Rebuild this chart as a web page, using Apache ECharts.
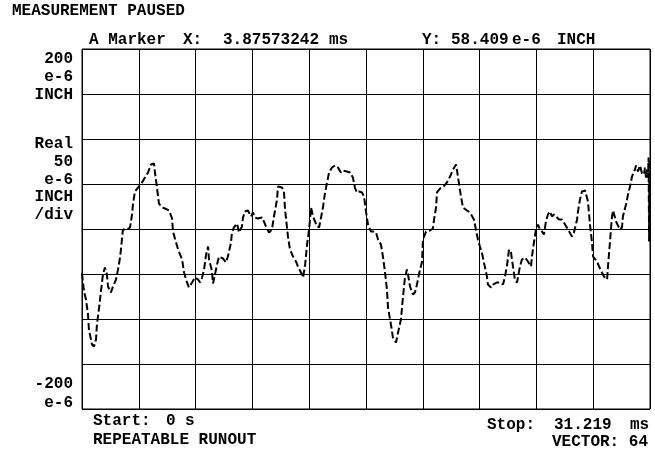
<!DOCTYPE html>
<html>
<head>
<meta charset="utf-8">
<script src="https://cdn.jsdelivr.net/npm/echarts@6/dist/echarts.min.js"></script>
<style>
html,body{margin:0;padding:0;background:#fff;}
#chart{width:655px;height:451px;}
</style>
</head>
<body>
<div id="chart"></div>
<script>
// time in ms
var times = [
0,0.11,0.22,0.33,0.38,0.55,0.66,0.77,0.82,0.93,1.04,1.15,1.26,1.37,1.43,1.59,1.70,1.87,1.98,2.09,
2.14,2.25,2.47,2.64,2.75,2.80,2.91,3.08,3.30,3.46,3.63,3.79,3.96,4.01,4.12,4.23,4.40,4.56,4.78,4.95,
5.00,5.17,5.28,5.50,5.61,5.77,5.88,6.05,6.21,6.38,6.49,6.60,6.71,6.82,6.93,6.98,7.14,7.20,7.31,7.42,
7.53,7.75,7.91,8.02,8.19,8.24,8.35,8.52,8.63,8.79,8.85,8.96,9.12,9.29,9.40,9.51,9.67,9.89,10.00,10.11,
10.28,10.44,10.55,10.72,10.77,10.99,11.10,11.16,11.32,11.43,11.60,11.76,11.87,12.09,12.15,12.26,12.37,12.48,12.59,12.70,
12.92,13.03,13.14,13.25,13.36,13.47,13.58,13.74,13.90,14.07,14.23,14.34,14.56,14.73,14.89,15.00,15.11,15.22,15.39,15.50,
15.61,15.72,15.88,15.99,16.16,16.27,16.43,16.54,16.65,16.76,16.82,16.98,17.09,17.26,17.37,17.53,17.64,17.75,17.86,17.92,
18.03,18.19,18.30,18.41,18.52,18.69,18.74,18.91,19.13,19.29,19.35,19.46,19.51,19.68,19.84,20.06,20.23,20.39,20.56,20.67,
20.83,20.94,21.16,21.33,21.43,21.54,21.65,21.76,21.87,21.98,22.09,22.26,22.31,22.48,22.59,22.81,22.97,23.14,23.25,23.36,
23.47,23.58,23.63,23.69,23.80,23.91,23.96,24.07,24.18,24.35,24.51,24.68,24.73,24.84,24.95,25.06,25.17,25.28,25.39,25.50,
25.61,25.72,25.83,25.94,26.11,26.22,26.38,26.55,26.71,26.93,27.04,27.21,27.26,27.37,27.48,27.65,27.75,27.81,27.92,28.03,
28.09,28.31,28.42,28.58,28.69,28.86,28.91,29.02,29.13,29.19,29.35,29.46,29.57,29.68,29.73,29.90,30.01,30.12,30.23,30.39,
30.45,30.56,30.67,30.78,30.89,30.94,31.00,31.05,31.11,31.14,31.17,31.19,31.219
];
// runout in e-6 inch
var values = [
-49.4,-69.4,-78.3,-95.0,-111.7,-128.3,-130.6,-122.8,-106.1,-89.4,-69.4,-50.6,-42.8,-50.6,-63.9,-70.6,-63.9,-56.1,-45.0,-31.7,
-22.8,-0.6,-0.6,1.7,16.1,27.2,41.7,46.1,51.7,57.2,62.8,71.7,72.8,62.8,46.1,28.3,23.9,22.8,20.6,11.7,
-2.8,-15.0,-22.8,-33.9,-48.3,-59.4,-65.0,-59.4,-53.9,-56.1,-59.4,-53.9,-45.0,-28.3,-19.4,-33.9,-46.1,-60.6,-50.6,-39.4,
-30.6,-32.8,-37.2,-30.6,-15.0,-3.9,1.7,6.1,-3.9,2.8,12.8,19.4,20.6,13.9,18.3,12.8,11.7,12.8,8.3,2.8,
-3.9,-0.6,13.9,32.8,47.2,46.1,41.7,21.7,-8.3,-22.8,-30.6,-36.1,-41.7,-50.6,-53.9,-40.6,-17.2,-0.6,23.9,13.9,
2.8,1.7,12.8,25.0,40.6,51.7,62.8,68.3,70.6,68.3,62.8,65.0,63.9,62.8,57.2,46.1,40.6,41.7,40.6,36.1,
19.4,5.0,-2.8,-2.8,-3.9,-11.7,-17.2,-30.6,-47.2,-67.2,-87.2,-106.1,-120.6,-126.1,-115.0,-100.6,-76.1,-53.9,-45.0,-50.6,
-63.9,-72.8,-70.6,-61.7,-50.6,-36.1,-11.7,-2.8,-1.7,0.6,10.6,23.9,40.6,45.0,46.1,51.7,58.3,66.1,71.7,57.2,
36.1,23.9,20.6,18.3,17.2,10.6,-0.6,-11.7,-19.4,-26.1,-37.2,-52.8,-61.7,-65.0,-61.7,-59.4,-59.4,-61.7,-52.8,-40.6,
-22.8,-26.1,-33.9,-41.7,-57.2,-59.4,-53.9,-41.7,-33.9,-31.7,-36.1,-41.7,-30.6,-15.0,-0.6,5.0,-0.6,-2.8,-6.1,8.3,
16.1,19.4,13.9,16.1,12.8,10.6,10.6,5.0,-0.6,-8.3,-3.9,10.6,19.4,32.8,41.7,42.8,40.6,30.6,5.0,-15.0,
-30.6,-36.1,-41.7,-48.3,-52.8,-56.1,-41.7,-13.9,13.9,20.6,8.3,3.9,-0.6,1.7,13.9,27.2,38.3,47.2,58.3,66.1,
70.6,63.9,70.6,61.7,60.6,68.3,57.2,66.1,57.2,79.4,-13.9,77.2,-11.7
];
var yLabelsTop = ['200', 'e-6', 'INCH'];
var yLabelsMid = ['Real', '50', 'e-6', 'INCH', '/div'];
var yLabelsBottom = ['-200', 'e-6'];
var statusText = 'MEASUREMENT PAUSED';
var markerTokens = ['A Marker', 'X:', '3.87573242', 'ms', 'Y:', '58.409', 'e-6', 'INCH'];
var startTokens = ['Start:', '0', 's'];
var stopTokens = ['Stop:', '31.219', 'ms'];
var modeText = 'REPEATABLE RUNOUT';
var vectorText = 'VECTOR: 64';
var xStart = 0, xStop = 31.219;
var yMin = -200, yMax = 200, yStep = 50;

var data = times.map(function (t, i) { return [t, values[i]]; });

var FONT = 'bold 16px "Liberation Mono", "Courier New", monospace';
function txt(s, x, y, align) {
  return { type: 'text', style: { text: s, x: x, y: y, font: FONT, fill: '#000',
    textAlign: align || 'left', textVerticalAlign: 'middle' }, z: 10 };
}
var g = [];
g.push(txt(statusText, 12, 11));
var markerX = [89, 183, 223, 329, 422, 451, 512, 557];
markerTokens.forEach(function (s, i) { g.push(txt(s, markerX[i], 40)); });
var topY = [59, 77, 95];
yLabelsTop.forEach(function (s, i) { g.push(txt(s, 73, topY[i], 'right')); });
var midY = [143.5, 161.5, 179.5, 197, 215];
yLabelsMid.forEach(function (s, i) { g.push(txt(s, 73, midY[i], 'right')); });
var botY = [384, 402.5];
yLabelsBottom.forEach(function (s, i) { g.push(txt(s, 73, botY[i], 'right')); });
var startX = [93, 166, 185];
startTokens.forEach(function (s, i) { g.push(txt(s, startX[i], 421)); });
g.push(txt(modeText, 93, 440));
var stopX = [487, 554, 630];
stopTokens.forEach(function (s, i) { g.push(txt(s, stopX[i], 425)); });
g.push(txt(vectorText, 648, 442, 'right'));

var chart = echarts.init(document.getElementById('chart'), null, { renderer: 'canvas' });
chart.setOption({
  animation: false,
  backgroundColor: '#fff',
  grid: { left: 82, top: 49, right: 5, bottom: 42, show: true, borderColor: '#000', borderWidth: 1, backgroundColor: 'transparent' },
  xAxis: {
    type: 'value', min: xStart, max: xStop, interval: (xStop - xStart) / 10,
    axisLine: { show: false }, axisTick: { show: false }, axisLabel: { show: false },
    splitLine: { show: true, lineStyle: { color: '#000', width: 1 } }
  },
  yAxis: {
    type: 'value', min: yMin, max: yMax, interval: yStep,
    axisLine: { show: false }, axisTick: { show: false }, axisLabel: { show: false },
    splitLine: { show: true, lineStyle: { color: '#000', width: 1 } }
  },
  series: [{
    type: 'line', data: data, showSymbol: false, symbol: 'none',
    lineStyle: { color: '#000', width: 2, type: [7, 3] },
    z: 5
  }],
  graphic: g
});
</script>
</body>
</html>
